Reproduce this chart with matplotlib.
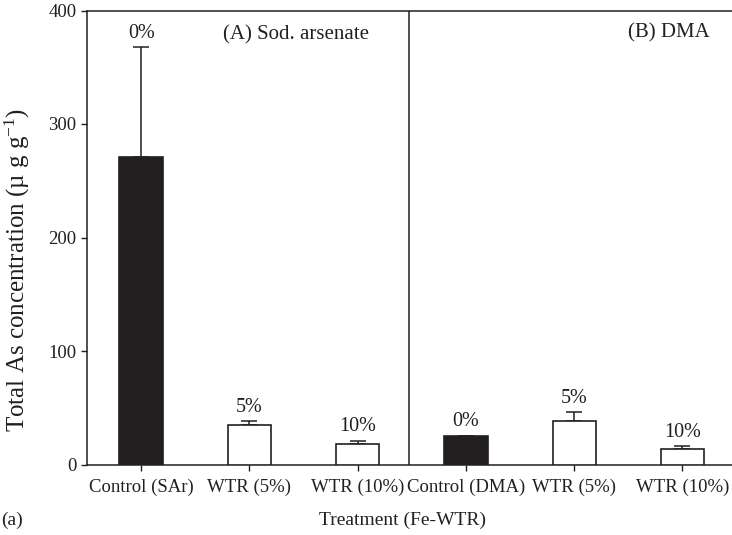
import matplotlib
matplotlib.use("Agg")
import matplotlib.pyplot as plt
import numpy as np

# ---- data ----
categories = ["Control (SAr)", "WTR (5%)", "WTR (10%)",
              "Control (DMA)", "WTR (5%)", "WTR (10%)"]
means = [271, 35.2, 18.2, 24.7, 37.9, 13.7]
upper_err = [97, 3.3, 2.9, 0.8, 8.4, 2.6]
pct_labels = ["0%", "5%", "10%", "0%", "5%", "10%"]
is_control = [True, False, False, True, False, False]
yticks = [0, 100, 200, 300, 400]
panel_titles = ["(A) Sod. arsenate", "(B) DMA"]

plt.rcParams['font.family'] = ['Liberation Serif', 'DejaVu Serif']
plt.rcParams['mathtext.fontset'] = 'custom'
plt.rcParams['mathtext.rm'] = 'Liberation Serif'
plt.rcParams['mathtext.it'] = 'Liberation Serif:italic'

W, H = 732, 535
fig = plt.figure(figsize=(W / 100, H / 100), dpi=100)
left, right, top, bottom = 87, 736.6, 10.5, 464.5
ax = fig.add_axes([left / W, 1 - bottom / H, (right - left) / W, (bottom - top) / H])

edge = '#231f20'
x = np.arange(len(categories))
colors = [edge if c else 'white' for c in is_control]
ax.bar(x, means, width=0.40, color=colors, edgecolor=edge, linewidth=1.2, zorder=3)
ax.errorbar(x, means, yerr=[np.zeros(len(means)), upper_err], fmt='none',
            ecolor=edge, elinewidth=1.1, capsize=6, capthick=1.1, zorder=2)

tops = np.array(means) + np.array(upper_err)
for xi, t, lab in zip(x, tops, pct_labels):
    ax.annotate(lab, (xi, t), xytext=(0, 3), textcoords='offset points',
                ha='center', va='bottom', fontsize=14.5, color='#231f20')

ax.set_xlim(-0.5, 5.5)
ax.set_ylim(0, 400)
ax.set_yticks(yticks)
ax.set_xticks(x)
ax.set_xticklabels(categories)
ax.tick_params(axis='both', direction='out', length=4.5, width=1.0,
               colors='#231f20', labelsize=13.5)
ax.tick_params(axis='x', pad=5.5)
ax.tick_params(axis='y', pad=3)

for s in ['left', 'bottom', 'top']:
    ax.spines[s].set_color('#231f20')
    ax.spines[s].set_linewidth(1.1)
ax.spines['right'].set_visible(False)

# divider between panels
ax.axvline(2.47, color='#231f20', linewidth=1.1)

ax.text(0.757, 378.5, panel_titles[0], ha='left', va='center', fontsize=15, color='#231f20')
ax.text(4.50, 380, panel_titles[1], ha='left', va='center', fontsize=15, color='#231f20')

fig.text(17.5 / W, 1 - 270 / H, 'Total As concentration (\u00b5 g g$^{\\mathrm{-1}}$)',
         rotation=90, ha='center', va='center', fontsize=18, color='#231f20')
fig.text(402 / W, 1 - 520 / H, 'Treatment (Fe-WTR)', ha='center', va='center',
         fontsize=14, color='#231f20')
fig.text(1 / W, 1 - 520 / H, '(a)', ha='left', va='center', fontsize=14, color='#231f20')

fig.savefig('out.png', dpi=100)
